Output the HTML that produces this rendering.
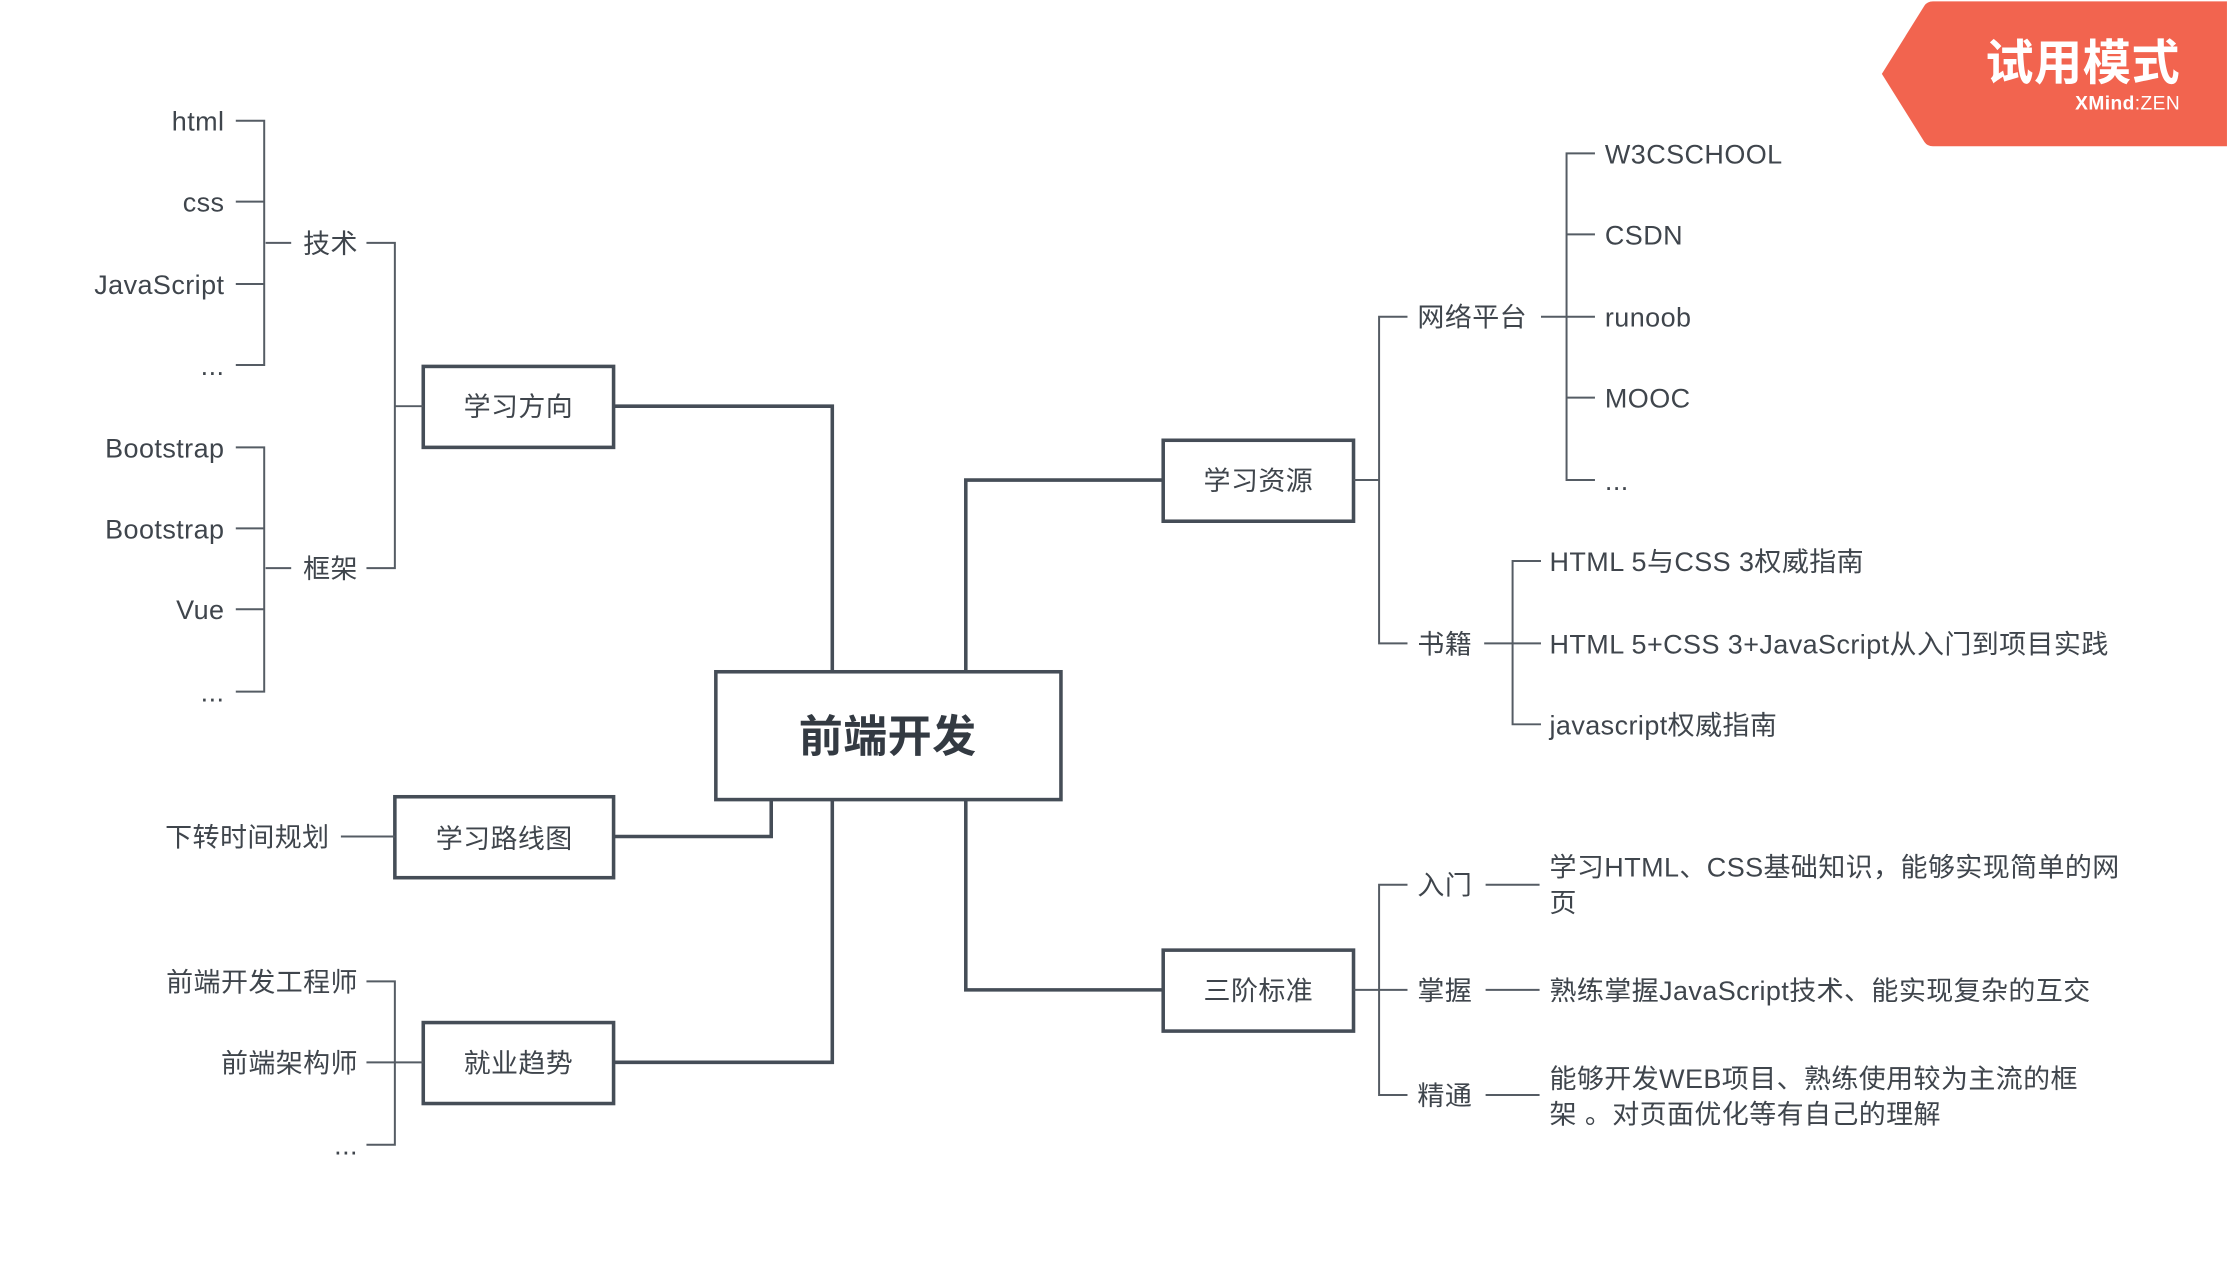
<!DOCTYPE html>
<html><head><meta charset="utf-8"><style>
html,body{margin:0;padding:0;background:#fff;}
svg{display:block;}
text{font-family:"Liberation Sans","Noto Sans CJK SC",sans-serif;fill:#3f454c;font-size:19px;letter-spacing:0.3px;}
</style></head><body>
<svg width="2227" height="1265" viewBox="0 0 1568 890.7" xmlns="http://www.w3.org/2000/svg">
<rect width="1568" height="891" fill="#fff"/>
<path d="M1325,52 L1355,4 Q1357,1 1361,1 L1568,1 L1568,103 L1361,103 Q1357,103 1355,100 Z" fill="#f2644f"/>
<text x="1535" y="56" text-anchor="end" style="fill:#fff;font-size:34px;font-weight:bold">试用模式</text>
<text x="1535" y="77" text-anchor="end" style="fill:#fff;font-size:13.5px;font-weight:bold">XMind<tspan style="font-weight:normal">:ZEN</tspan></text>

<g stroke="#454d57" stroke-width="2.5" fill="none">
<polyline points="432,286 586,286 586,472"/>
<polyline points="432,748 586,748 586,563"/>
<polyline points="432,589 543,589 543,563"/>
<polyline points="680,472 680,338 819,338"/>
<polyline points="680,563 680,697 819,697"/>
<rect x="504" y="473" width="243" height="90"/>
<rect x="298" y="258" width="134" height="57"/>
<rect x="278" y="561" width="154" height="57"/>
<rect x="298" y="720" width="134" height="57"/>
<rect x="819" y="310" width="134" height="57"/>
<rect x="819" y="669" width="134" height="57"/>
</g>
<g stroke="#555c64" stroke-width="1.4" fill="none">
<line x1="298" y1="286" x2="278" y2="286"/>
<polyline points="258,171 278,171 278,400 258,400"/>
<line x1="187" y1="171" x2="205" y2="171"/>
<polyline points="166,85 186,85 186,257 166,257"/>
<line x1="166" y1="142" x2="186" y2="142"/>
<line x1="166" y1="200" x2="186" y2="200"/>
<line x1="187" y1="400" x2="205" y2="400"/>
<polyline points="166,315 186,315 186,487 166,487"/>
<line x1="166" y1="372" x2="186" y2="372"/>
<line x1="166" y1="429" x2="186" y2="429"/>
<line x1="278" y1="589" x2="240" y2="589"/>
<line x1="298" y1="748" x2="258" y2="748"/>
<polyline points="258,691 278,691 278,806 258,806"/>

<line x1="953" y1="338" x2="971" y2="338"/>
<polyline points="991,223 971,223 971,453 991,453"/>
<line x1="1085" y1="223" x2="1123" y2="223"/>
<polyline points="1123,108 1103,108 1103,338 1123,338"/>
<line x1="1103" y1="165" x2="1123" y2="165"/>
<line x1="1103" y1="280" x2="1123" y2="280"/>
<line x1="1045" y1="453" x2="1085" y2="453"/>
<polyline points="1085,395 1065,395 1065,510 1085,510"/>
<line x1="953" y1="697" x2="971" y2="697"/>
<polyline points="991,623 971,623 971,771 991,771"/>
<line x1="971" y1="697" x2="991" y2="697"/>
<line x1="1046" y1="623" x2="1084" y2="623"/>
<line x1="1046" y1="697" x2="1084" y2="697"/>
<line x1="1046" y1="771" x2="1084" y2="771"/>
</g>

<text x="625" y="529" text-anchor="middle" style="font-size:31px;font-weight:bold;fill:#333a42">前端开发</text>
<text x="365" y="293" text-anchor="middle">学习方向</text>
<text x="355" y="597" text-anchor="middle">学习路线图</text>
<text x="365" y="755" text-anchor="middle">就业趋势</text>
<text x="886" y="345" text-anchor="middle">学习资源</text>
<text x="886" y="704" text-anchor="middle">三阶标准</text>

<g text-anchor="end">
<text x="252" y="178">技术</text>
<text x="252" y="407">框架</text>
<text x="158" y="92">html</text>
<text x="158" y="149">css</text>
<text x="158" y="207">JavaScript</text>
<text x="158" y="264">...</text>
<text x="158" y="322">Bootstrap</text>
<text x="158" y="379">Bootstrap</text>
<text x="158" y="436">Vue</text>
<text x="158" y="494">...</text>
<text x="232" y="596">下转时间规划</text>
<text x="252" y="698">前端开发工程师</text>
<text x="252" y="755">前端架构师</text>
<text x="252" y="813">...</text>
</g>

<text x="998" y="230">网络平台</text>
<text x="998" y="460">书籍</text>
<text x="1130" y="115">W3CSCHOOL</text>
<text x="1130" y="172">CSDN</text>
<text x="1130" y="230">runoob</text>
<text x="1130" y="287">MOOC</text>
<text x="1130" y="345">...</text>
<text x="1091" y="402">HTML 5与CSS 3权威指南</text>
<text x="1091" y="460">HTML 5+CSS 3+JavaScript从入门到项目实践</text>
<text x="1091" y="517">javascript权威指南</text>
<text x="998" y="630">入门</text>
<text x="998" y="704">掌握</text>
<text x="998" y="778">精通</text>
<text x="1091" y="617">学习HTML、CSS基础知识，能够实现简单的网</text>
<text x="1091" y="642">页</text>
<text x="1091" y="704">熟练掌握JavaScript技术、能实现复杂的互交</text>
<text x="1091" y="766">能够开发WEB项目、熟练使用较为主流的框</text>
<text x="1091" y="791">架 。对页面优化等有自己的理解</text>
</svg>
</body></html>
